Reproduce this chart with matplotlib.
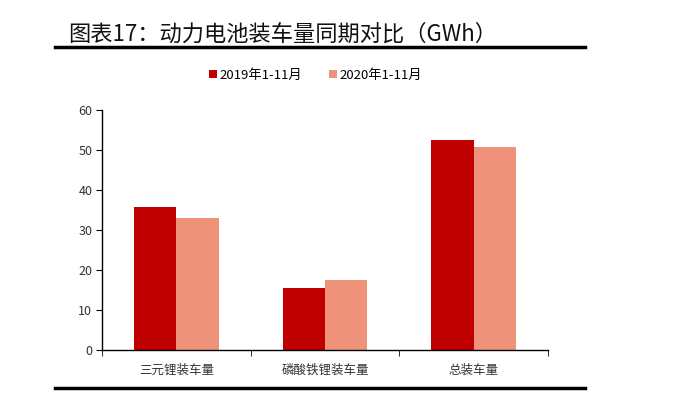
import matplotlib.pyplot as plt
import numpy as np

plt.rcParams['font.family'] = ['Noto Sans CJK SC', 'DejaVu Sans']

categories = ['三元锂装车量', '磷酸铁锂装车量', '总装车量']
series_names = ['2019年1-11月', '2020年1-11月']
vals_2019 = [35.8, 15.5, 52.4]
vals_2020 = [32.9, 17.5, 50.7]
colors = ['#C00000', '#EE937A']

fig = plt.figure(figsize=(6.77, 3.97), dpi=100)
ax = fig.add_axes([0.1507, 0.1184, 0.6588, 0.6045])

x = np.arange(len(categories))
w = 0.285
ax.bar(x - w / 2, vals_2019, w, color=colors[0], label=series_names[0])
ax.bar(x + w / 2, vals_2020, w, color=colors[1], label=series_names[1])

ax.set_xlim(-0.5, len(categories) - 0.5)
ax.set_ylim(0, 60)
ax.set_yticks(range(0, 61, 10))
ax.set_xticks(x)
ax.set_xticklabels(categories, fontsize=9, color='#333333')
ax.set_xticks(np.arange(len(categories) + 1) - 0.5, minor=True)
ax.tick_params(axis='x', which='major', length=0, pad=10)
ax.tick_params(axis='x', which='minor', length=4, direction='out', color='black')
ax.tick_params(axis='y', length=4, labelsize=9, labelcolor='#333333', pad=3)
for s in ['top', 'right']:
    ax.spines[s].set_visible(False)
ax.spines['left'].set_linewidth(1)
ax.spines['bottom'].set_linewidth(1)

fig.legend(loc='center', bbox_to_anchor=(0.466, 0.81), ncol=2, frameon=False,
           fontsize=9.5, handlelength=0.6, handleheight=0.6, handletextpad=0.2,
           columnspacing=2.0)

fig.text(0.1, 0.915, '图表17：动力电池装车量同期对比（GWh）', fontsize=16,
         color='#111111', va='center', ha='left')
fig.add_artist(plt.Line2D([0.081, 0.864], [0.882, 0.882], color='black',
                          linewidth=2.5, transform=fig.transFigure))
fig.add_artist(plt.Line2D([0.081, 0.864], [0.023, 0.023], color='black',
                          linewidth=2.5, transform=fig.transFigure))

fig.savefig('out.png', dpi=100)
